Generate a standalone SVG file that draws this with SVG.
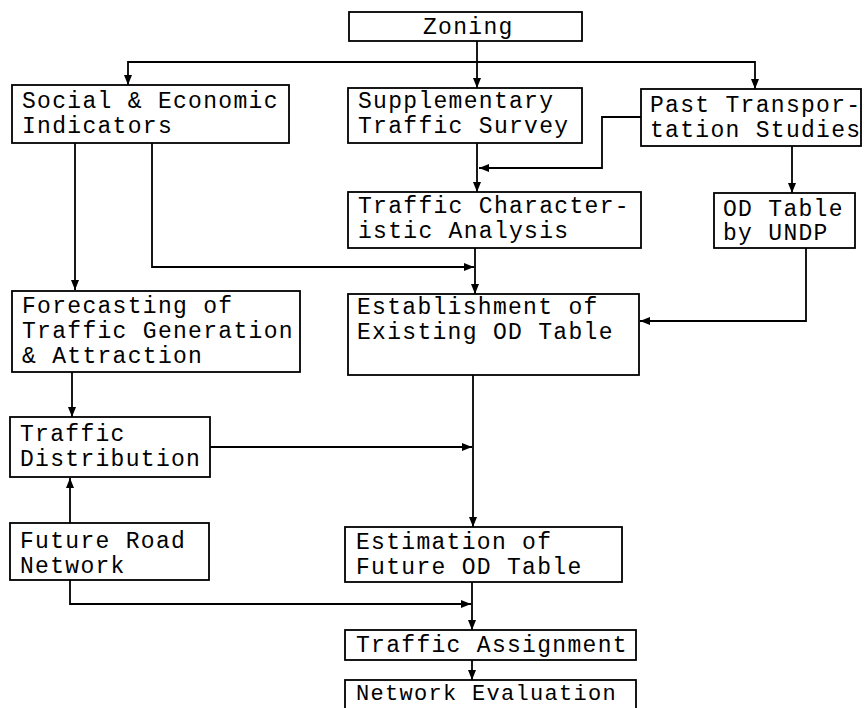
<svg xmlns="http://www.w3.org/2000/svg" width="865" height="708" viewBox="0 0 865 708">
<style>
rect{fill:#fff;stroke:#000;stroke-width:1.8}
text{font-family:"Liberation Mono","DejaVu Sans Mono",monospace;font-size:23px;letter-spacing:1.3px;fill:#000}
.c path{fill:none;stroke:#000;stroke-width:1.8}
</style>
<defs>
<marker id="ah" viewBox="0 0 10 8" refX="10" refY="4" markerWidth="10" markerHeight="8" markerUnits="userSpaceOnUse" orient="auto">
<path d="M0 0 L10 4 L0 8 Z" fill="#000"/>
</marker>
</defs>
<rect x="0" y="0" width="865" height="708" style="fill:#fff;stroke:none"/>
<g class="c">
<path d="M477 41 V88" marker-end="url(#ah)"/>
<path d="M477 62 H128 V85" marker-end="url(#ah)"/>
<path d="M477 62 H755 V89" marker-end="url(#ah)"/>
<path d="M477 143 V192" marker-end="url(#ah)"/>
<path d="M641 117 H602 V168 H479" marker-end="url(#ah)"/>
<path d="M792 146 V193" marker-end="url(#ah)"/>
<path d="M75 143 V290" marker-end="url(#ah)"/>
<path d="M152 143 V267 H474" marker-end="url(#ah)"/>
<path d="M475 248 V294" marker-end="url(#ah)"/>
<path d="M806 248 V321 H640" marker-end="url(#ah)"/>
<path d="M72 372 V417" marker-end="url(#ah)"/>
<path d="M210 447 H472" marker-end="url(#ah)"/>
<path d="M473 375 V527" marker-end="url(#ah)"/>
<path d="M70 523 V478" marker-end="url(#ah)"/>
<path d="M70 580 V604 H471" marker-end="url(#ah)"/>
<path d="M472 582 V630" marker-end="url(#ah)"/>
<path d="M472 660 V680" marker-end="url(#ah)"/>
</g>
<g id="zoning"><rect x="349" y="12" width="233" height="29"/><text x="423" y="34">Zoning</text></g>
<g id="social"><rect x="12" y="85" width="277" height="58"/><text x="22" y="108">Social &amp; Economic</text><text x="22" y="133">Indicators</text></g>
<g id="supplementary"><rect x="348" y="88" width="234" height="55"/><text x="358" y="108">Supplementary</text><text x="358" y="133">Traffic Survey</text></g>
<g id="past"><rect x="641" y="89" width="220" height="57"/><text x="650" y="112">Past Transpor-</text><text x="650" y="137">tation Studies</text></g>
<g id="trafficchar"><rect x="348" y="192" width="293" height="56"/><text x="358" y="213">Traffic Character-</text><text x="358" y="238">istic Analysis</text></g>
<g id="odundp"><rect x="714" y="193" width="141" height="55"/><text x="723" y="216">OD Table</text><text x="723" y="240">by UNDP</text></g>
<g id="forecasting"><rect x="12" y="291" width="288" height="81"/><text x="22" y="313">Forecasting of</text><text x="22" y="338">Traffic Generation</text><text x="22" y="363">&amp; Attraction</text></g>
<g id="establishment"><rect x="348" y="294" width="291" height="81"/><text x="357" y="314">Establishment of</text><text x="357" y="339">Existing OD Table</text></g>
<g id="distribution"><rect x="10" y="417" width="200" height="60"/><text x="20" y="441">Traffic</text><text x="20" y="466">Distribution</text></g>
<g id="futureroad"><rect x="10" y="523" width="199" height="57"/><text x="20" y="548">Future Road</text><text x="20" y="573">Network</text></g>
<g id="estimation"><rect x="345" y="527" width="277" height="55"/><text x="356" y="549">Estimation of</text><text x="356" y="574">Future OD Table</text></g>
<g id="assignment"><rect x="345" y="630" width="291" height="30"/><text x="356" y="652">Traffic Assignment</text></g>
<g id="evaluation"><rect x="345" y="680" width="291" height="32"/><text x="356" y="700" style="font-size:22px">Network Evaluation</text></g>
</svg>
